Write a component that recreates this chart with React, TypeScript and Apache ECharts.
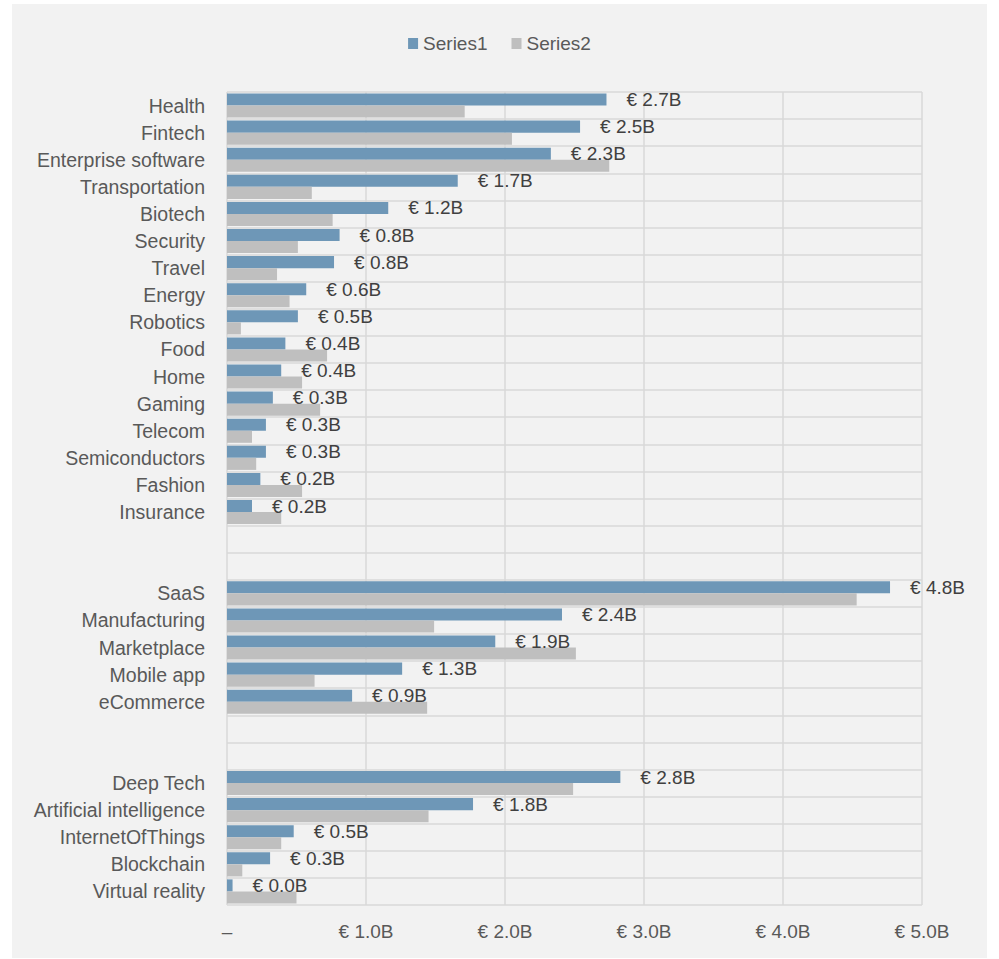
import React, { useEffect, useRef } from "react";
import * as echarts from "echarts";

const categories = [
  "Health", "Fintech", "Enterprise software", "Transportation", "Biotech", "Security", "Travel",
  "Energy", "Robotics", "Food", "Home", "Gaming", "Telecom", "Semiconductors", "Fashion", "Insurance",
  " ", "  ",
  "SaaS", "Manufacturing", "Marketplace", "Mobile app", "eCommerce",
  "   ", "    ",
  "Deep Tech", "Artificial intelligence", "InternetOfThings", "Blockchain", "Virtual reality",
];

const series1 = [
  2.73, 2.54, 2.33, 1.66, 1.16, 0.81, 0.77, 0.57, 0.51, 0.42, 0.39, 0.33, 0.28, 0.28, 0.24, 0.18,
  null, null,
  4.77, 2.41, 1.93, 1.26, 0.9,
  null, null,
  2.83, 1.77, 0.48, 0.31, 0.04,
];

const series2 = [
  1.71, 2.05, 2.75, 0.61, 0.76, 0.51, 0.36, 0.45, 0.1, 0.72, 0.54, 0.67, 0.18, 0.21, 0.54, 0.39,
  null, null,
  4.53, 1.49, 2.51, 0.63, 1.44,
  null, null,
  2.49, 1.45, 0.39, 0.11, 0.5,
];

const xTicks = [0, 1, 2, 3, 4, 5];
const seriesNames = ["Series1", "Series2"];

const FONT = "Liberation Sans";

export default function App() {
  const ref = useRef<HTMLDivElement>(null);
  useEffect(() => {
    if (!ref.current) return;
    const chart = echarts.init(ref.current, undefined, { renderer: "svg" });
    chart.setOption({
      animation: false,
      backgroundColor: "#f2f2f2",
      textStyle: { fontFamily: FONT },
      legend: {
        data: seriesNames,
        top: 25,
        left: "center",
        itemWidth: 10,
        itemHeight: 11,
        itemGap: 24,
        icon: "rect",
        textStyle: { fontSize: 19, color: "#595959", fontFamily: FONT },
      },
      grid: { left: 215, right: 65, top: 88, bottom: 53, containLabel: false },
      xAxis: {
        type: "value",
        min: xTicks[0],
        max: xTicks[xTicks.length - 1],
        interval: 1,
        axisLine: { show: false },
        axisTick: { show: false },
        splitLine: { show: true, lineStyle: { color: "#d9d9d9", width: 1.5 } },
        axisLabel: {
          margin: 17,
          fontSize: 19,
          color: "#595959",
          fontFamily: FONT,
          formatter: (v: number) => (v === 0 ? "–" : "€ " + v.toFixed(1) + "B"),
        },
      },
      yAxis: {
        type: "category",
        inverse: true,
        data: categories,
        axisLine: { show: false },
        axisTick: { show: false },
        splitLine: { show: true, lineStyle: { color: "#d9d9d9", width: 1.5 } },
        axisLabel: { margin: 22, fontSize: 19.5, color: "#595959", fontFamily: FONT, interval: 0 },
      },
      series: [
        {
          name: seriesNames[0],
          type: "bar",
          data: series1,
          barGap: "0%",
          barCategoryGap: "11%",
          itemStyle: { color: "#6e97b7" },
          label: {
            show: true,
            position: "right",
            distance: 20,
            fontSize: 19,
            color: "#404040",
            fontFamily: FONT,
            formatter: (p: any) => "€ " + Number(p.value).toFixed(1) + "B",
          },
        },
        {
          name: seriesNames[1],
          type: "bar",
          data: series2,
          barGap: "0%",
          barCategoryGap: "11%",
          itemStyle: { color: "#bfbfbf" },
        },
      ],
    });
    return () => chart.dispose();
  }, []);
  return (
    <div style={{ position: "absolute", left: 0, top: 0, width: 999, height: 959, background: "#ffffff" }}>
      <div ref={ref} style={{ position: "absolute", left: 12, top: 4, width: 975, height: 954 }} />
    </div>
  );
}
